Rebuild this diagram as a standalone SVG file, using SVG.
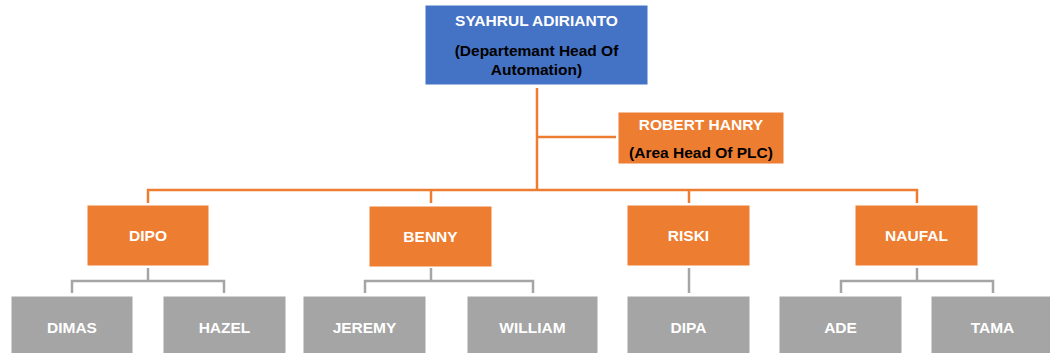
<svg xmlns="http://www.w3.org/2000/svg" width="1050" height="353" viewBox="0 0 1050 353">
<style>
text{font-family:"Liberation Sans",Arial,sans-serif;font-weight:bold;font-size:15.5px;text-anchor:middle}
.w{fill:#FFFFFF}.k{fill:#000000}
.blue{fill:#4472C4;stroke:#FFFFFF;stroke-width:1}
.org{fill:#ED7D31;stroke:#FFFFFF;stroke-width:1}
.gry{fill:#A5A5A5;stroke:#FFFFFF;stroke-width:1}
.lo{fill:none;stroke:#ED7D31;stroke-width:2.5}
.lg{fill:none;stroke:#A5A5A5;stroke-width:2.5}
</style>
<rect width="1050" height="353" fill="#FFFFFF"/>
<g id="connectors">
<path class="lo" d="M537,88 V190"/>
<path class="lo" d="M537,137 H616"/>
<path class="lo" d="M148,203 V190 H917 V203"/>
<path class="lo" d="M431,190 V203"/>
<path class="lo" d="M689,190 V203"/>
<path class="lg" d="M148,268 V281"/>
<path class="lg" d="M72,293 V281 H224 V293"/>
<path class="lg" d="M431,268 V281"/>
<path class="lg" d="M365,293 V281 H533 V293"/>
<path class="lg" d="M689,268 V293"/>
<path class="lg" d="M917,268 V281"/>
<path class="lg" d="M841,293 V281 H993 V293"/>
</g>
<g id="n-syahrul"><rect class="blue" x="425" y="5" width="223" height="80"/>
<text class="w" x="536.5" y="26">SYAHRUL ADIRIANTO</text>
<text class="k" x="536.5" y="56">(Departemant Head Of</text>
<text class="k" x="536.5" y="75">Automation)</text></g>
<g id="n-robert"><rect class="org" x="618" y="112" width="166" height="52"/>
<text class="w" x="701" y="130">ROBERT HANRY</text>
<text class="k" x="701" y="158">(Area Head Of PLC)</text></g>
<g id="n-dipo"><rect class="org" x="87" y="205" width="122" height="61"/><text class="w" x="148" y="241">DIPO</text></g>
<g id="n-benny"><rect class="org" x="369" y="206" width="123" height="61"/><text class="w" x="430.5" y="242">BENNY</text></g>
<g id="n-riski"><rect class="org" x="627" y="205" width="123" height="61"/><text class="w" x="688.5" y="241">RISKI</text></g>
<g id="n-naufal"><rect class="org" x="855" y="205" width="123" height="61"/><text class="w" x="916.5" y="241">NAUFAL</text></g>
<g id="n-dimas"><rect class="gry" x="11" y="296" width="122" height="60"/><text class="w" x="72" y="333">DIMAS</text></g>
<g id="n-hazel"><rect class="gry" x="163" y="296" width="123" height="60"/><text class="w" x="224.5" y="333">HAZEL</text></g>
<g id="n-jeremy"><rect class="gry" x="303" y="296" width="123" height="60"/><text class="w" x="364.5" y="333">JEREMY</text></g>
<g id="n-william"><rect class="gry" x="467" y="296" width="131" height="60"/><text class="w" x="532.5" y="333">WILLIAM</text></g>
<g id="n-dipa"><rect class="gry" x="627" y="296" width="123" height="60"/><text class="w" x="688.5" y="333">DIPA</text></g>
<g id="n-ade"><rect class="gry" x="779" y="296" width="123" height="60"/><text class="w" x="840.5" y="333">ADE</text></g>
<g id="n-tama"><rect class="gry" x="931" y="296" width="123" height="60"/><text class="w" x="992.5" y="333">TAMA</text></g>
</svg>
